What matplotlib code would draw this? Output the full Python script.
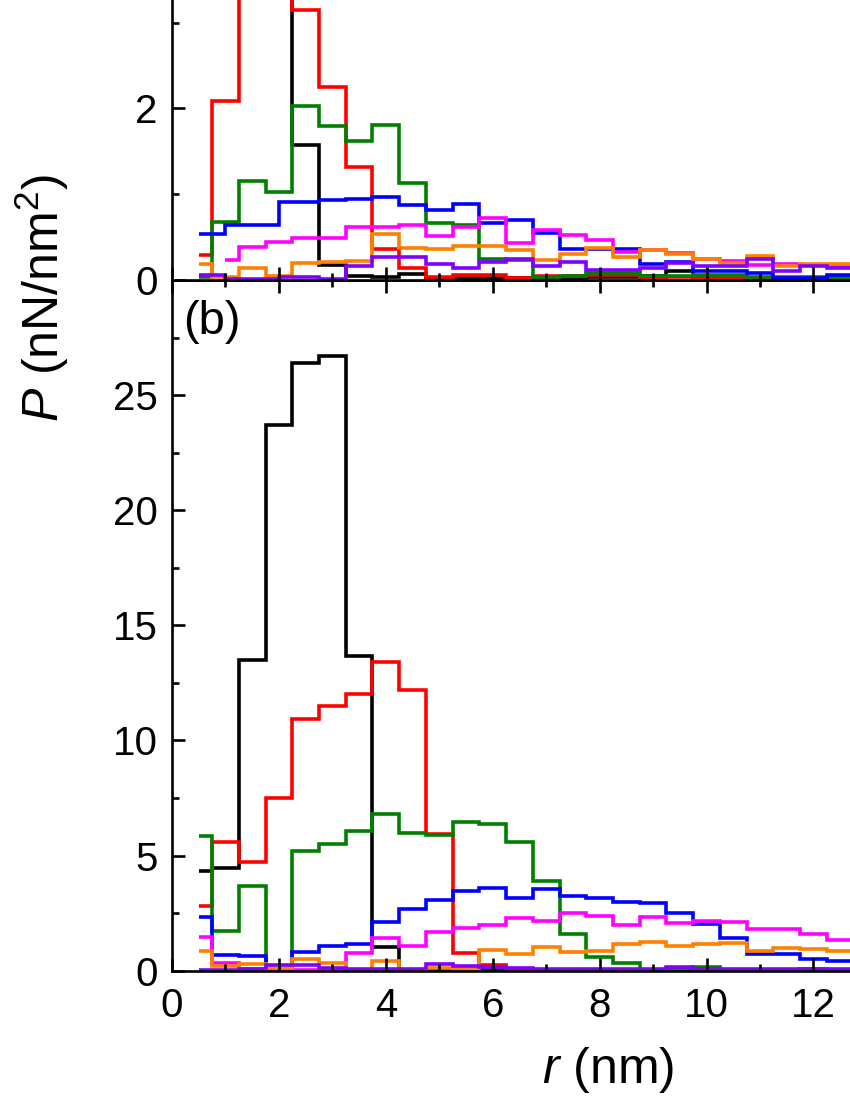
import numpy as np
import matplotlib
matplotlib.use("Agg")
import matplotlib.pyplot as plt
from matplotlib.ticker import MultipleLocator

plt.rcParams['font.family'] = ['Liberation Sans', 'DejaVu Sans']
plt.rcParams['mathtext.fontset'] = 'custom'
plt.rcParams['mathtext.rm'] = 'Liberation Sans'
plt.rcParams['mathtext.it'] = 'Liberation Sans:italic'

# bin edges (nm) -- bins of 0.5 nm centred on 0.5, 1.0, ... 12.5 (first one half width)
edges = [0.5, 0.75, 1.25, 1.75, 2.25, 2.75, 3.25, 3.75, 4.25, 4.75, 5.25, 5.75, 6.25,
         6.75, 7.25, 7.75, 8.25, 8.75, 9.25, 9.75, 10.25, 10.75, 11.25, 11.75, 12.25, 12.75]
# some curves of panel (a) have missing points at the start
edges_bp = [0.5, 1.0, 2.0, 2.75, 3.25, 3.75, 4.25, 4.75, 5.25, 5.75, 6.25, 6.75, 7.25,
            7.75, 8.25, 8.75, 9.25, 9.75, 10.25, 10.75, 11.25, 11.75, 12.25, 12.75]
edges_m = [1.0, 1.25, 1.75, 2.25, 2.75, 3.25, 3.75, 4.25, 4.75, 5.25, 5.75, 6.25, 6.75,
           7.25, 7.75, 8.25, 8.75, 9.25, 9.75, 10.25, 10.75, 11.25, 11.75, 12.25, 12.75]

colors = ['#000000', '#ff0000', '#008000', '#0000ff', '#ff00ff', '#ff8000', '#8000ff']

# panel (a)
black_a = [4.5, 6.0, 9.0, 8.0, 1.57, 0.175, 0.05, 0.03, 0.07, 0.02, 0.02, 0.02, 0.02,
           0.02, 0.02, 0.03, 0.03, 0.05, 0.10, 0.03, 0.02, 0.02, 0.02, 0.02, 0.02]
red_a = [0.29, 2.09, 5.0, 4.5, 3.15, 2.25, 1.32, 0.36, 0.14, 0.03, 0.06, 0.06, 0.02,
         0.05, 0.05, 0.06, 0.06, 0.02, 0.04, 0.02, 0.02, 0.02, 0.04, 0.04, 0.04]
green_a = [0.04, 0.68, 1.15, 1.02, 2.03, 1.80, 1.62, 1.81, 1.13, 0.66, 0.64, 0.25, 0.23,
           0.03, 0.05, 0.08, 0.08, 0.05, 0.05, 0.06, 0.06, 0.04, 0.02, 0.02, 0.02]
blue_a = [0.54, 0.64, 0.91, 0.93, 0.94, 0.97, 0.87, 0.82, 0.88, 0.66, 0.70, 0.55,
          0.36, 0.36, 0.36, 0.19, 0.21, 0.10, 0.10, 0.08, 0.02, 0.02, 0.06]
magenta_a = [0.23, 0.39, 0.44, 0.49, 0.49, 0.62, 0.62, 0.64, 0.51, 0.62, 0.72, 0.43,
             0.58, 0.52, 0.47, 0.33, 0.35, 0.31, 0.25, 0.22, 0.17, 0.19, 0.17, 0.16]
orange_a = [0.19, 0.04, 0.14, 0.05, 0.20, 0.21, 0.22, 0.54, 0.37, 0.36, 0.40, 0.40, 0.35,
            0.23, 0.30, 0.37, 0.27, 0.35, 0.30, 0.25, 0.20, 0.28, 0.16, 0.19, 0.19]
purple_a = [0.06, 0.01, 0.04, 0.01, 0.16, 0.27, 0.27, 0.19, 0.14, 0.21, 0.24, 0.16,
            0.21, 0.12, 0.12, 0.14, 0.20, 0.16, 0.16, 0.24, 0.11, 0.16, 0.14]

# panel (b)
black_b = [4.33, 4.45, 13.5, 23.7, 26.4, 26.7, 13.65, 1.05, 0.05, 0.03, 0.02, 0.03, 0.02,
           0.02, 0.02, 0.02, 0.02, 0.02, 0.02, 0.02, 0.02, 0.02, 0.02, 0.02, 0.02]
red_b = [2.83, 5.58, 4.74, 7.5, 10.95, 11.5, 12.0, 13.4, 12.2, 5.95, 0.75, 0.25, 0.05,
         0.04, 0.05, 0.05, 0.03, 0.03, 0.02, 0.02, 0.02, 0.02, 0.02, 0.07, 0.03]
green_b = [5.83, 1.74, 3.68, 0.03, 5.22, 5.5, 6.07, 6.8, 5.97, 5.9, 6.48, 6.38, 5.57,
           3.9, 1.58, 0.58, 0.35, 0.05, 0.05, 0.15, 0.03, 0.03, 0.03, 0.03, 0.03]
blue_b = [2.35, 0.68, 0.65, 0.08, 0.8, 1.07, 1.16, 2.13, 2.68, 3.07, 3.48, 3.61, 3.15,
          3.55, 3.26, 3.17, 3.0, 2.93, 2.52, 2.03, 1.41, 0.71, 0.71, 0.49, 0.43]
magenta_b = [1.45, 0.32, 0.07, 0.05, 0.05, 0.04, 0.76, 1.43, 1.07, 1.67, 1.87, 1.99, 2.28,
             2.17, 2.52, 2.39, 1.99, 2.32, 2.09, 2.16, 2.13, 1.8, 1.83, 1.6, 1.33]
orange_b = [0.85, 0.2, 0.29, 0.1, 0.51, 0.35, 0.02, 0.42, 0.03, 0.13, 0.07, 0.92, 0.72,
            1.04, 0.83, 0.86, 1.15, 1.23, 1.07, 1.16, 1.19, 0.87, 1.0, 0.94, 0.87]
purple_b = [0.05, 0.05, 0.07, 0.25, 0.25, 0.1, 0.06, 0.06, 0.06, 0.28, 0.22, 0.17, 0.12,
            0.08, 0.08, 0.08, 0.08, 0.08, 0.15, 0.08, 0.08, 0.08, 0.08, 0.08, 0.08]

series_a = [(black_a, edges), (red_a, edges), (green_a, edges), (blue_a, edges_bp),
            (magenta_a, edges_m), (orange_a, edges), (purple_a, edges_bp)]
series_b = [black_b, red_b, green_b, blue_b, magenta_b, orange_b, purple_b]

fig = plt.figure(figsize=(8.5, 11), dpi=100)
W, H = 850.0, 1100.0
x0 = 172.0
pxnm = 53.45
ax_b = fig.add_axes([x0/W, (H-970.7)/H, 14*pxnm/W, (970.7-280)/H])
ax_a = fig.add_axes([x0/W, (H-280)/H, 14*pxnm/W, 4*85.8/H])

lw = 2.6
for (vals, ed), c in zip(series_a, colors):
    ax_a.stairs(vals, ed, baseline=None, color=c, lw=lw)
for vals, c in zip(series_b, colors):
    ax_b.stairs(vals, edges, baseline=None, color=c, lw=lw)

for ax in (ax_a, ax_b):
    ax.set_xlim(0, 14)
    ax.set_xticks([0, 2, 4, 6, 8, 10, 12])
    ax.xaxis.set_minor_locator(MultipleLocator(1))
    for s in ax.spines.values():
        s.set_linewidth(1.9)
    ax.tick_params(which='both', direction='in', width=1.9, labelsize=29)
    ax.tick_params(which='major', length=9.5)
    ax.tick_params(which='minor', length=5)
    ax.tick_params(axis='y', pad=10.5)
    ax.tick_params(axis='x', pad=12)

ax_a.set_ylim(0, 4)
ax_a.set_yticks([0, 2])
ax_a.yaxis.set_minor_locator(MultipleLocator(1))
ax_a.tick_params(labelbottom=False)

ax_b.set_ylim(0, 30)
ax_b.set_yticks([0, 5, 10, 15, 20, 25])
ax_b.yaxis.set_minor_locator(MultipleLocator(2.5))
ax_b.tick_params(which='both', top=True)

fig.text(183/W, 1-322/H, '(b)', ha='left', va='center', fontsize=34)
fig.text(42/W, 1-298/H, '$P$ (nN/nm$^2$)', rotation=90, ha='center', va='center', fontsize=36)
fig.text(608/W, 1-1083/H, '$r$ (nm)', ha='center', va='baseline', fontsize=36)

fig.savefig('out.png', dpi=100)
